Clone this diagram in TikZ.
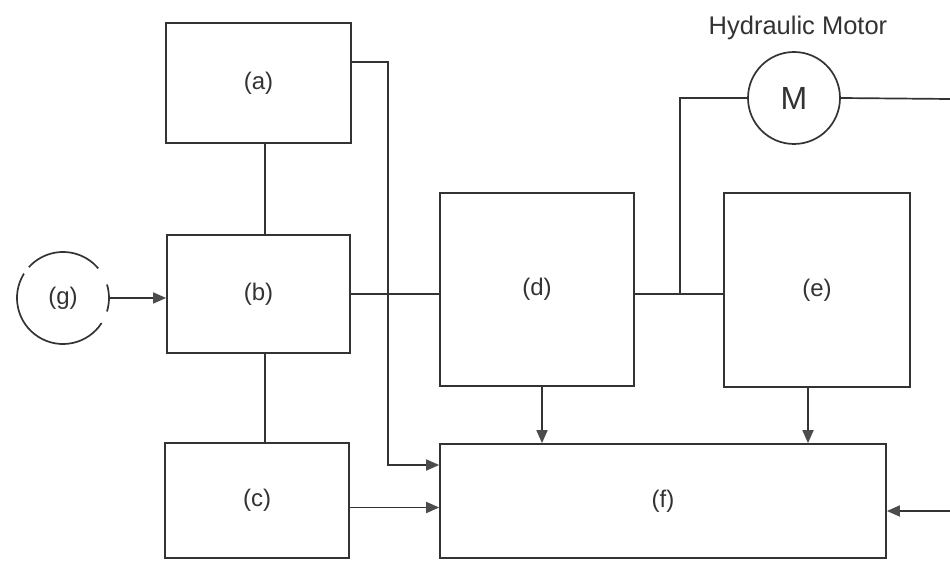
\documentclass[tikz,border=0pt]{standalone}
\usepackage{fontspec}
\setmainfont{Liberation Sans}
\usetikzlibrary{arrows.meta}
\definecolor{ink}{gray}{0.2}
\definecolor{tipc}{gray}{0.3}
\tikzset{
  blk/.style={draw=ink, line width=1.7pt, rectangle, inner sep=0pt, text=ink, font=\fontsize{24}{26}\selectfont},
  wire/.style={draw=ink, line width=1.7pt},
  arr/.style={wire, -{Triangle[length=13pt,width=11pt,fill=tipc,color=tipc]}},
  ring/.style={circle, minimum size=92pt, inner sep=0pt}
}
\begin{document}
\begin{tikzpicture}[x=1pt,y=1pt]
\useasboundingbox (0,0) rectangle (950,560);
\fill[white] (0,0) rectangle (950,560);
% boxes
\node[blk, minimum width=185pt, minimum height=120pt] (a) at (258.5,477) {(a)};
\node[blk, minimum width=183pt, minimum height=118pt] (b) at (258.5,266) {(b)};
\node[blk, minimum width=184pt, minimum height=115pt] (c) at (257,59.5) {(c)};
\node[blk, minimum width=194pt, minimum height=193pt] (d) at (537,270.5) {(d)};
\node[blk, minimum width=186pt, minimum height=194pt] (e) at (817,270) {(e)};
\node[blk, minimum width=446pt, minimum height=114pt] (f) at (663,59) {(f)};
% source g
\node[ring, text=ink, font=\fontsize{24}{26}\selectfont] (g) at (63,262) {(g)};
\draw[wire] ([shift={(40:46pt)}]g.center) arc[start angle=40, end angle=138, radius=46pt];
\draw[wire] ([shift={(148:46pt)}]g.center) arc[start angle=148, end angle=327, radius=46pt];
\draw[wire] ([shift={(-17:46pt)}]g.center) arc[start angle=-17, end angle=17, radius=46pt];
% motor
\node[ring, draw=ink, line width=1.7pt, text=ink, font=\fontsize{32}{34}\selectfont] (M) at (794,462) {M};
\node[font=\fontsize{25.5}{28}\selectfont, text=ink] (hm) at (798,532) {Hydraulic Motor};
% connectors
\draw[wire] ([xshift=6.5pt]a.south) -- ([xshift=6.5pt]b.north);
\draw[wire] ([xshift=6.5pt]b.south) -- ([xshift=8pt]c.north);
\draw[arr] (g.east) -- (g.east -| b.west);
\draw[wire, line width=2.6pt] (b.east) -- (b.east -| d.west);
\draw[arr] ([yshift=21pt]a.east) -- ++(36,0) |- ([yshift=36pt]f.west);
\draw[arr] ([yshift=-7pt]c.east) -- ([yshift=-7pt]c.east -| f.west);
\coordinate (j) at (680,266);
\draw[wire, line width=2.2pt] ([yshift=-4.5pt]d.east) -- (j) -- (j -| e.west);
\draw[wire] (j) |- (M.west);
\coordinate (rt) at (950,461);
\draw[wire] (M.east) -- (rt);
\draw[arr] ([xshift=5pt]d.south) -- ([xshift=5pt]d.south |- f.north);
\draw[arr] ([xshift=-9pt]e.south) -- ([xshift=-9pt]e.south |- f.north);
\coordinate (rin) at (950,49);
\draw[arr] (rin) -- (rin -| f.east);
\end{tikzpicture}
\end{document}
